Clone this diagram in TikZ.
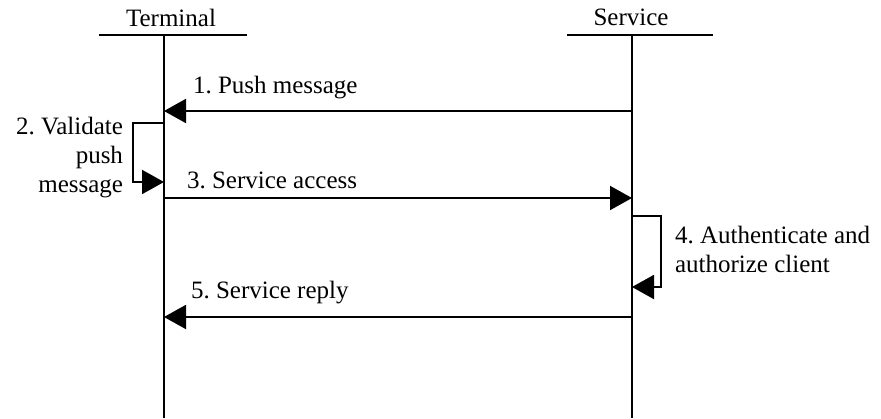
\documentclass[tikz,border=0pt]{standalone}
\usepackage{fontspec}
\setmainfont{Liberation Serif}
\usetikzlibrary{arrows.meta}
\frenchspacing
\begin{document}
\begin{tikzpicture}[x=1pt,y=-1pt,
  line width=2pt,
  lbl/.style={inner sep=0pt,font=\fontsize{25}{29}\selectfont},
  msg/.style={-{Triangle[length=22pt,width=24pt]}},
  life/.style={line width=2pt}]
\useasboundingbox (0,0) rectangle (881,418);
% heads
\node[lbl,anchor=base] (term) at (171,26) {Terminal};
\node[lbl,anchor=base] (serv) at (631,25) {Service};
\coordinate (thl) at (99,35);
\coordinate (thr) at (247,35);
\coordinate (shl) at (567,35);
\coordinate (shr) at (713,35);
\draw (thl) -- (thr);
\draw (shl) -- (shr);
\coordinate (ttop) at (164,35);
\coordinate (tbot) at (164,418);
\coordinate (stop) at (632,35);
\coordinate (sbot) at (632,418);
\draw[life] (ttop) -- (tbot);
\draw[life] (stop) -- (sbot);
% 1
\coordinate (s1) at (632,111);
\coordinate (t1) at (164,111);
\draw[msg] (s1) -- (t1);
\node[lbl,anchor=base west] (l1) at (192,93) {1. Push message};
% 2
\coordinate (t2a) at (164,123);
\coordinate (t2b) at (164,182);
\coordinate (c2) at (133,123);
\draw[msg] (t2a) -- (c2) |- (t2b);
\node[lbl,anchor=base east,align=right] (l2) at (124,192) {2. Validate\\push\\message};
% 3
\coordinate (t3) at (164,198);
\coordinate (s3) at (632,198);
\draw[msg] (t3) -- (s3);
\node[lbl,anchor=base west] (l3) at (186,188) {3. Service access};
% 4
\coordinate (s4a) at (632,216);
\coordinate (s4b) at (632,287);
\coordinate (c4) at (661,216);
\draw[msg] (s4a) -- (c4) |- (s4b);
\node[lbl,anchor=base west,align=left] (l4) at (674,272) {4. Authenticate and\\authorize client};
% 5
\coordinate (s5) at (632,317);
\coordinate (t5) at (164,317);
\draw[msg] (s5) -- (t5);
\node[lbl,anchor=base west] (l5) at (190,298) {5. Service reply};
\end{tikzpicture}
\end{document}
